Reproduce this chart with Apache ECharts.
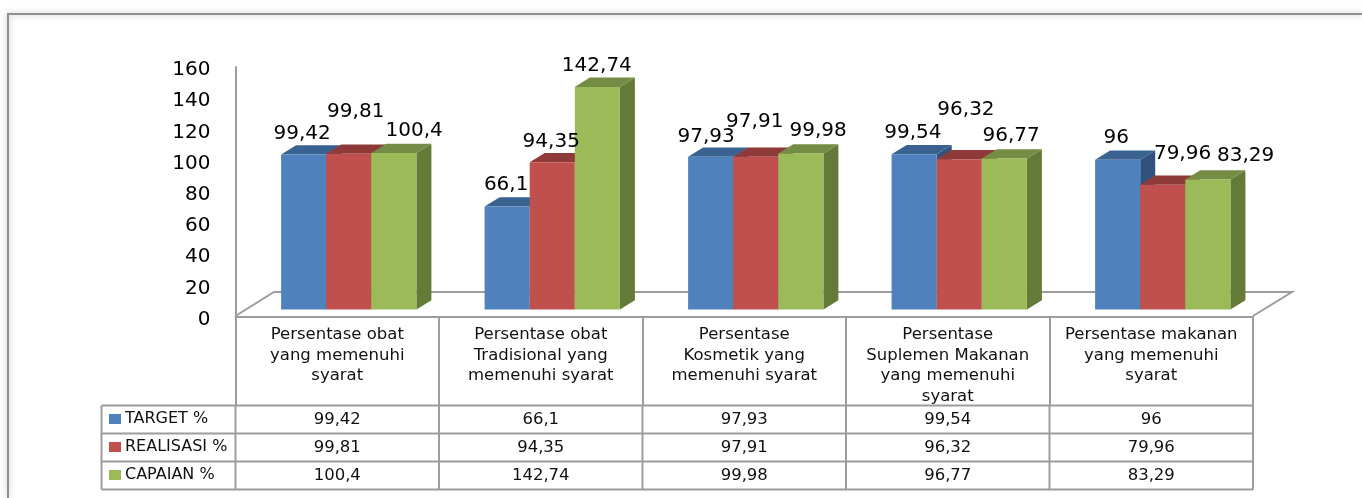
<!DOCTYPE html>
<html>
<head>
<meta charset="utf-8">
<title>Chart</title>
<script src="https://cdn.jsdelivr.net/npm/echarts@6/dist/echarts.min.js"></script>
<style>
  html, body { margin: 0; padding: 0; background: #fff; }
  #main { width: 1362px; height: 498px; }
</style>
</head>
<body>
<div id="main"></div>
<script>
const categories = [
  'Persentase obat\nyang memenuhi\nsyarat',
  'Persentase obat\nTradisional yang\nmemenuhi syarat',
  'Persentase\nKosmetik yang\nmemenuhi syarat',
  'Persentase\nSuplemen Makanan\nyang memenuhi\nsyarat',
  'Persentase makanan\nyang memenuhi\nsyarat'
];
const target = [99.42, 66.1, 97.93, 99.54, 96];
const realisasi = [99.81, 94.35, 97.91, 96.32, 79.96];
const capaian = [100.4, 142.74, 99.98, 96.77, 83.29];
const seriesNames = ['TARGET %', 'REALISASI %', 'CAPAIAN %'];
const seriesValues = [target, realisasi, capaian];

// front, top, side of each bar
const barColors = [
  ['#4f81bd', '#3a6290', '#31527c'],
  ['#c0504d', '#8e3a38', '#7a3230'],
  ['#9bbb59', '#748c43', '#647a39']
];
// label nudges from the centre of the front top edge, [dx, dy] per category
const labelNudge = [
  [[-1.5, -21], [-1, -21.6], [-4.5, -20.4], [-1.3, -21], [-1.5, -21.8]],
  [[7, -42.5], [-1, -21], [-1, -35.5], [6.7, -49.3], [19.8, -31.4]],
  [[20.3, -22.6], [-0.5, -20.7], [17.3, -22.9], [6.8, -23.2], [37.8, -23.6]]
];

const font = '"DejaVu Sans", sans-serif';
const gray = '#9c9c9c';
const axisLeft = 235.5, axisWidth = 1017.5, axisTop = 67, axisBottom = 316.5;
const colWidth = axisWidth / categories.length;
const barWidth = 45.1, depthX = 15, depthY = 9.3;
const rowLines = [405.5, 433.5, 461.5, 489.5];
const tableLeft = 101.5;

const fmt = v => String(v).replace('.', ',');

function renderBar(s, params, api) {
  const c = api.value(0);
  const v = api.value(1);
  const centre = api.coord([c, 0])[0] + (s - 1) * barWidth;
  const base = api.coord([c, 0])[1];
  const top = api.coord([c, v])[1];
  const l = centre - barWidth / 2, r = centre + barWidth / 2;
  const col = barColors[s];
  const nudge = labelNudge[s][c];
  return {
    type: 'group',
    children: [
      { type: 'polygon', shape: { points: [[r, base], [r + depthX, base - depthY], [r + depthX, top - depthY], [r, top]] }, style: { fill: col[2] } },
      { type: 'polygon', shape: { points: [[l, top], [l + depthX, top - depthY], [r + depthX, top - depthY], [r, top]] }, style: { fill: col[1] } },
      { type: 'rect', shape: { x: l, y: top, width: barWidth, height: base - top }, style: { fill: col[0] } },
      { type: 'text', z2: 10, x: centre + nudge[0], y: top + nudge[1], style: { text: fmt(v), fill: '#000', font: '20px ' + font, align: 'center', verticalAlign: 'middle' } }
    ]
  };
}

const line = (x1, y1, x2, y2, extra) => ({
  type: 'line', shape: { x1, y1, x2, y2 }, style: Object.assign({ stroke: gray, lineWidth: 2 }, extra)
});

const graphics = [
  // outer frame, open on the right and at the bottom
  { type: 'polyline', shape: { points: [[8, 498], [8, 14], [1362, 14]] }, style: { fill: null, stroke: '#8f8f8f', lineWidth: 2, shadowColor: 'rgba(0,0,0,0.3)', shadowBlur: 6 } },
  // chart floor
  { type: 'polyline', shape: { points: [[axisLeft, 316], [274, 292], [1292, 292], [1253, 316]] }, style: { fill: null, stroke: gray, lineWidth: 2 } }
];
rowLines.forEach(y => graphics.push(line(tableLeft, y, axisLeft + axisWidth, y)));
graphics.push(line(tableLeft, rowLines[0], tableLeft, rowLines[3]));
for (let c = 0; c <= categories.length; c++) {
  graphics.push(line(axisLeft + c * colWidth, rowLines[0], axisLeft + c * colWidth, rowLines[3]));
}
seriesValues.forEach((vals, s) => {
  vals.forEach((v, c) => {
    graphics.push({
      type: 'text',
      x: axisLeft + (c + 0.5) * colWidth,
      y: (rowLines[s] + rowLines[s + 1]) / 2,
      style: { text: fmt(v), fill: '#111', font: '16.5px ' + font, align: 'center', verticalAlign: 'middle' }
    });
  });
});

const chart = echarts.init(document.getElementById('main'), null, { renderer: 'canvas' });
chart.setOption({
  animation: false,
  backgroundColor: '#fff',
  grid: [
    { left: axisLeft, top: axisTop, width: axisWidth, height: axisBottom - axisTop },
    { left: axisLeft + 11.5, top: axisTop - 7, width: axisWidth, height: axisBottom - axisTop }
  ],
  xAxis: [
    {
      type: 'category', gridIndex: 0, data: categories,
      axisLine: { lineStyle: { color: gray, width: 2 } },
      axisTick: { show: true, length: 89, lineStyle: { color: gray, width: 2 } },
      axisLabel: { color: '#111', fontFamily: font, fontSize: 16.5, lineHeight: 20.5, margin: 8, interval: 0, verticalAlign: 'top' }
    },
    { type: 'category', gridIndex: 1, data: categories, show: false }
  ],
  yAxis: [
    {
      type: 'value', gridIndex: 0, min: 0, max: 160, interval: 20,
      axisLine: { show: true, lineStyle: { color: gray, width: 2 } },
      axisTick: { show: false },
      splitLine: { show: false },
      axisLabel: { color: '#000', fontFamily: font, fontSize: 20, margin: 25, verticalAlign: 'top', lineHeight: 6 }
    },
    { type: 'value', gridIndex: 1, min: 0, max: 160, interval: 20, show: false, splitLine: { show: false } }
  ],
  legend: {
    orient: 'vertical', left: 109, top: 411, padding: 0, itemGap: 12,
    itemWidth: 12, itemHeight: 10, icon: 'rect',
    selectedMode: false,
    data: seriesNames,
    textStyle: { color: '#111', fontFamily: font, fontSize: 16, lineHeight: 16, padding: [0, 0, 0, -1] }
  },
  graphic: { elements: graphics },
  series: seriesValues.map((vals, s) => ({
    name: seriesNames[s],
    type: 'custom',
    xAxisIndex: 1,
    yAxisIndex: 1,
    itemStyle: { color: barColors[s][0] },
    clip: false,
    encode: { x: 0, y: 1 },
    data: vals.map((v, c) => [c, v]),
    renderItem: (params, api) => renderBar(s, params, api)
  }))
});
</script>
</body>
</html>
